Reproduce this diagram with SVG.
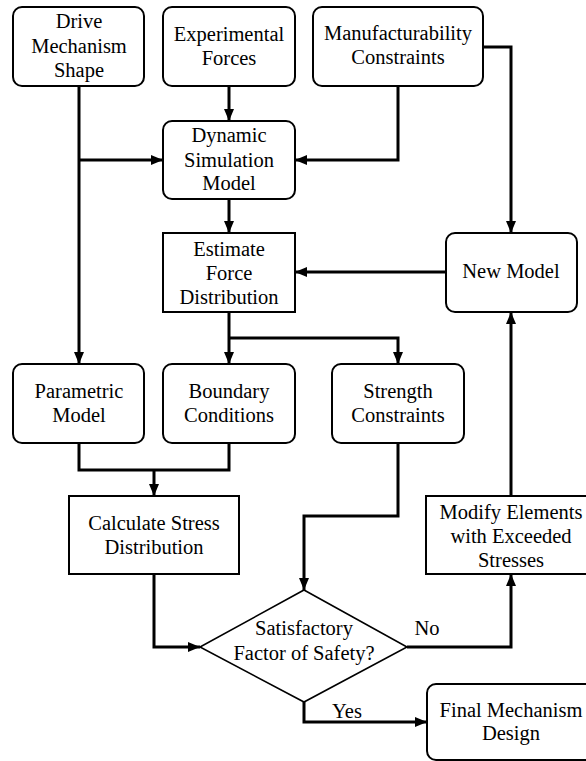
<svg xmlns="http://www.w3.org/2000/svg" width="586" height="761" viewBox="0 0 586 761">
  <style>
    .box { fill: #fff; stroke: #000; stroke-width: 2; }
    .dia { fill: #fff; stroke: #000; stroke-width: 1.6; }
    text { font-family: 'Liberation Serif', 'Times New Roman', Times, Tinos, 'Noto Serif', 'DejaVu Serif', FreeSerif, 'Nimbus Roman', serif; font-size: 20.5px; fill: #000; text-anchor: middle; }
    .wire { fill: none; stroke: #000; stroke-width: 3; }
    .arr { marker-end: url(#head); }
  </style>
  <defs>
    <marker id="head" markerUnits="userSpaceOnUse" markerWidth="12" markerHeight="10" refX="12" refY="5" orient="auto">
      <path d="M0,0 L12,5 L0,10 z" fill="#000"/>
    </marker>
  </defs>

  <!-- connectors -->
  <g id="connectors">
    <path class="wire arr" d="M79,86 V364"/>
    <path class="wire arr" d="M79,160 H163"/>
    <path class="wire arr" d="M229,86 V121"/>
    <path class="wire arr" d="M398,86 V160 H295"/>
    <path class="wire arr" d="M483,47 H511 V233"/>
    <path class="wire arr" d="M229,199 V233"/>
    <path class="wire arr" d="M446,272 H295"/>
    <path class="wire arr" d="M229,312 V364"/>
    <path class="wire arr" d="M229,338 H398 V364"/>
    <path class="wire" d="M79,443 V470 H229 V443"/>
    <path class="wire arr" d="M154,470 V496"/>
    <path class="wire arr" d="M154,574 V647 H200"/>
    <path class="wire arr" d="M398,443 V516 H304 V590"/>
    <path class="wire arr" d="M407,647 H511 V574"/>
    <path class="wire arr" d="M511,496 V312"/>
    <path class="wire arr" d="M304,702 V722 H427"/>
  </g>

  <g id="drive">
    <rect class="box" x="13" y="7" width="131" height="79" rx="9"/>
    <text x="79" y="28">Drive</text>
    <text x="79" y="53">Mechanism</text>
    <text x="79" y="77">Shape</text>
  </g>
  <g id="experimental">
    <rect class="box" x="163" y="7" width="132" height="79" rx="9"/>
    <text x="229" y="41">Experimental</text>
    <text x="229" y="65">Forces</text>
  </g>
  <g id="manufacturability">
    <rect class="box" x="313" y="7" width="170" height="79" rx="9"/>
    <text x="398" y="40">Manufacturability</text>
    <text x="398" y="64">Constraints</text>
  </g>
  <g id="dynamic">
    <rect class="box" x="163" y="121" width="132" height="78" rx="9"/>
    <text x="229" y="142">Dynamic</text>
    <text x="229" y="167">Simulation</text>
    <text x="229" y="190">Model</text>
  </g>
  <g id="estimate">
    <rect class="box" x="163" y="233" width="132" height="79"/>
    <text x="229" y="256">Estimate</text>
    <text x="229" y="280">Force</text>
    <text x="229" y="304">Distribution</text>
  </g>
  <g id="new-model">
    <rect class="box" x="446" y="233" width="131" height="79" rx="9"/>
    <text x="511" y="278">New Model</text>
  </g>
  <g id="parametric">
    <rect class="box" x="13" y="364" width="131" height="79" rx="9"/>
    <text x="79" y="398">Parametric</text>
    <text x="79" y="422">Model</text>
  </g>
  <g id="boundary">
    <rect class="box" x="163" y="364" width="132" height="79" rx="9"/>
    <text x="229" y="398">Boundary</text>
    <text x="229" y="422">Conditions</text>
  </g>
  <g id="strength">
    <rect class="box" x="332" y="364" width="132" height="79" rx="9"/>
    <text x="398" y="398">Strength</text>
    <text x="398" y="422">Constraints</text>
  </g>
  <g id="calculate">
    <rect class="box" x="69" y="496" width="170" height="78"/>
    <text x="154" y="530">Calculate Stress</text>
    <text x="154" y="554">Distribution</text>
  </g>
  <g id="modify">
    <rect class="box" x="426" y="496" width="170" height="78"/>
    <text x="511" y="519">Modify Elements</text>
    <text x="511" y="543">with Exceeded</text>
    <text x="511" y="567">Stresses</text>
  </g>
  <g id="decision">
    <polygon class="dia" points="304,590 407,647 304,702 200,647"/>
    <text x="304" y="635">Satisfactory</text>
    <text x="304" y="660">Factor of Safety?</text>
  </g>
  <g id="final">
    <rect class="box" x="427" y="684" width="170" height="76" rx="9"/>
    <text x="511" y="717">Final Mechanism</text>
    <text x="511" y="740">Design</text>
  </g>

  <g id="edge-labels">
    <text x="427" y="635">No</text>
    <text x="347" y="718">Yes</text>
  </g>
</svg>
